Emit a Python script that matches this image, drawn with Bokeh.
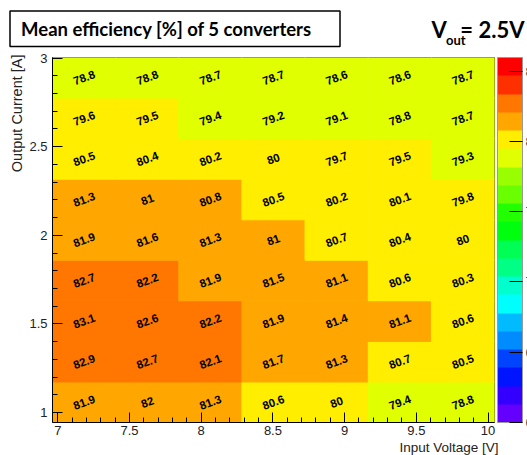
from bokeh.plotting import figure
from bokeh.layouts import column
from bokeh.models import (Range1d, LinearColorMapper, ColorBar, FixedTicker,
                          SingleIntervalTicker, Title, ColumnDataSource)
from bokeh.transform import transform
from bokeh.core.properties import value
from bokeh.embed import file_html
from bokeh.resources import INLINE

# ---- data ----
voltages = [7.183, 7.624, 8.064, 8.504, 8.944, 9.385, 9.825]          # bin centres [V]
currents = [1.058, 1.287, 1.516, 1.745, 1.974, 2.202, 2.431, 2.660, 2.889]  # bin centres [A]
bin_w = 0.4403
bin_h = 0.2288
# rows from bottom (lowest current) to top
eff_row_1 = [81.9, 82.0, 81.3, 80.6, 80.0, 79.4, 78.8]
eff_row_2 = [82.9, 82.7, 82.1, 81.7, 81.3, 80.7, 80.5]
eff_row_3 = [83.1, 82.6, 82.2, 81.9, 81.4, 81.1, 80.6]
eff_row_4 = [82.7, 82.2, 81.9, 81.5, 81.1, 80.6, 80.3]
eff_row_5 = [81.9, 81.6, 81.3, 81.0, 80.7, 80.4, 80.0]
eff_row_6 = [81.3, 81.0, 80.8, 80.5, 80.2, 80.1, 79.8]
eff_row_7 = [80.5, 80.4, 80.2, 80.0, 79.7, 79.5, 79.3]
eff_row_8 = [79.6, 79.5, 79.4, 79.2, 79.1, 78.8, 78.7]
eff_row_9 = [78.8, 78.8, 78.7, 78.7, 78.6, 78.6, 78.7]
eff_rows = [eff_row_1, eff_row_2, eff_row_3, eff_row_4, eff_row_5,
            eff_row_6, eff_row_7, eff_row_8, eff_row_9]

x_tick_labels = {7: "7", 7.5: "7.5", 8: "8", 8.5: "8.5", 9: "9", 9.5: "9.5", 10: "10"}
y_tick_labels = {1: "1", 1.5: "1.5", 2: "2", 2.5: "2.5", 3: "3"}
z_ticks = [60, 65, 70, 75, 80, 85]

title_text = "Mean efficiency [%] of 5 converters"
vout_main = "V"
vout_sub = "out"
vout_rest = "= 2.5V"
x_title = "Input Voltage [V]"
y_title = "Output Current [A]"

# ROOT-like rainbow palette, 20 contour colours (low -> high)
palette = ["#6300FF", "#3300FF", "#0014FF", "#0044FF", "#008BFF", "#00BBFF",
           "#00FFFC", "#00FFCC", "#00FF85", "#00FF55", "#00FF0E", "#22FF00",
           "#69FF00", "#99FF00", "#E0FF00", "#FFEE00", "#FFA700", "#FF7700",
           "#FF3000", "#FF0000"]

xs, ys, zs, txt = [], [], [], []
for j, row in enumerate(eff_rows):
    for i, v in enumerate(row):
        xs.append(voltages[i])
        ys.append(currents[j])
        zs.append(v)
        txt.append(f"{v:g}")
src = ColumnDataSource(dict(x=xs, y=ys, z=zs, t=txt))

mapper = LinearColorMapper(palette=palette, low=59.987, high=85.987)

# ---------------- header (title box + V_out) ----------------
HEAD_H = 49
head = figure(width=527, height=HEAD_H, output_backend="svg", toolbar_location=None,
              tools="", title=None, x_axis_location=None, y_axis_location=None,
              x_range=Range1d(0, 527), y_range=Range1d(HEAD_H, 0),
              min_border=0)
head.min_border_left = head.min_border_right = 0
head.min_border_top = head.min_border_bottom = 0
head.outline_line_color = None
head.grid.visible = False
head.background_fill_color = "white"
head.border_fill_color = "white"

head.quad(left=[9.5], right=[339.5], top=[10.5], bottom=[46], fill_color=None,
          line_color="black", line_width=1.5)
head.text(x=[166], y=[28.5], text=[title_text], text_align="center",
          text_baseline="middle", text_font=value("Lato"), text_font_style="bold",
          text_font_size="18.5px", text_color="black")
head.text(x=[431], y=[29], text=[vout_main], text_align="left",
          text_baseline="middle", text_font=value("Lato"), text_font_style="bold",
          text_font_size="22px", text_color="black")
head.text(x=[445.5], y=[39.5], text=[vout_sub], text_align="left",
          text_baseline="middle", text_font=value("Lato"), text_font_style="bold",
          text_font_size="13px", text_color="black")
head.text(x=[524], y=[29], text=[vout_rest], text_align="right",
          text_baseline="middle", text_font=value("Lato"), text_font_style="bold",
          text_font_size="22px", text_color="black")

# ---------------- main histogram ----------------
p = figure(width=527, height=455 - HEAD_H, output_backend="svg", toolbar_location=None,
           tools="", title=None,
           x_range=Range1d(6.963, 10.045), y_range=Range1d(0.944, 3.003))
p.min_border_left = 52
p.min_border_right = 33
p.min_border_top = 8
p.min_border_bottom = 33
p.background_fill_color = "white"
p.border_fill_color = "white"
p.outline_line_color = "#333333"
p.outline_line_width = 1
p.grid.visible = False

for f in (head, p):
    if "frame_align" in f.properties():
        f.frame_align = False

p.rect(x="x", y="y", width=bin_w, height=bin_h, source=src,
       fill_color=transform("z", mapper), line_color=transform("z", mapper),
       line_width=1)
p.text(x="x", y="y", text="t", source=src, angle=20, angle_units="deg",
       text_align="center", text_baseline="middle",
       text_font=value("Liberation Sans"), text_font_style="bold",
       text_font_size="11.5px", text_color="black")

for ax, labels in ((p.xaxis[0], x_tick_labels), (p.yaxis[0], y_tick_labels)):
    ax.ticker = SingleIntervalTicker(interval=0.5, num_minor_ticks=5)
    ax.major_label_overrides = labels
    ax.major_tick_in = 10
    ax.major_tick_out = 0
    ax.minor_tick_in = 5
    ax.minor_tick_out = 0
    ax.axis_line_color = "black"
    ax.major_tick_line_color = "black"
    ax.minor_tick_line_color = "black"
    ax.major_label_text_font = "Liberation Sans"
    ax.major_label_text_font_size = "13px"
    ax.major_label_text_color = "#222222"
p.xaxis.major_label_standoff = 3
p.yaxis.major_label_standoff = 5

cb = ColorBar(color_mapper=mapper, location=(445, 0), width=25, height=365,
              padding=0, ticker=FixedTicker(ticks=z_ticks),
              major_tick_in=13, major_tick_out=0, major_tick_line_color="black",
              minor_tick_line_color=None, label_standoff=3,
              major_label_text_font="Liberation Sans",
              major_label_text_font_size="12px",
              bar_line_color="#999999", background_fill_color=None,
              border_line_color=None)
p.add_layout(cb, "center")

# axis titles, ROOT style (right / top aligned)
p.add_layout(Title(text=x_title, align="right", offset=-4, standoff=0,
                   text_font="Liberation Sans", text_font_style="normal",
                   text_font_size="13.5px", text_color="#222222"), "below")
p.add_layout(Title(text=y_title, align="right", offset=-3, standoff=3,
                   text_font="Liberation Sans", text_font_style="normal",
                   text_font_size="14.5px", text_color="#222222"), "left")

layout = column(head, p)
open("out.html", "w").write(file_html(layout, INLINE))
